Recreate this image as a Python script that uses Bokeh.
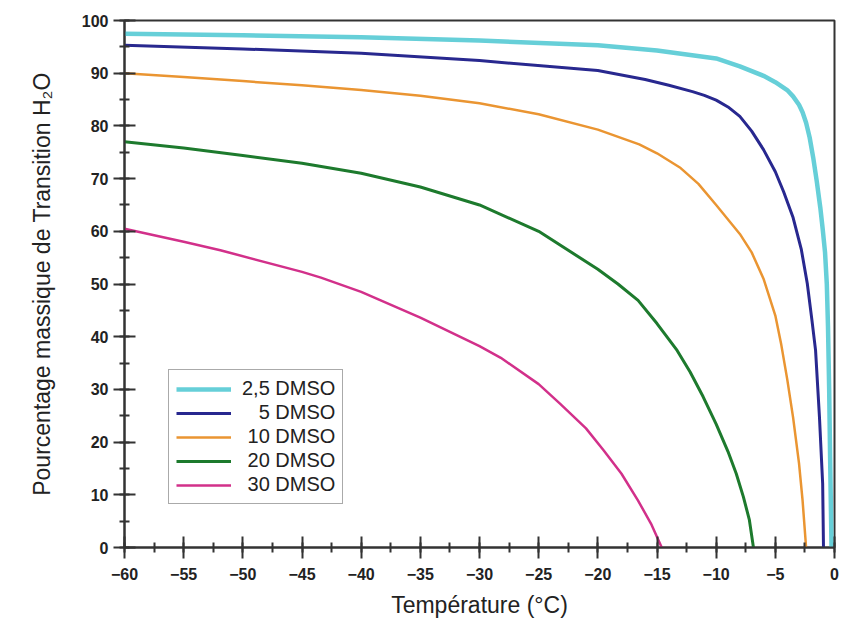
from bokeh.plotting import figure
from bokeh.models import Range1d, SingleIntervalTicker, Legend
from bokeh.embed import file_html
from bokeh.resources import INLINE

# --- data ---
t_25 = [-60, -50, -40, -30, -20, -15, -10, -8, -6, -5, -4, -3.5, -3, -2.7, -2.4, -2.1, -1.8, -1.5, -1.2, -1.0, -0.8, -0.65, -0.55, -0.45, -0.37, -0.3, -0.25]
v_25 = [97.5, 97.2, 96.8, 96.2, 95.3, 94.3, 92.8, 91.3, 89.5, 88.3, 86.8, 85.6, 84.0, 82.6, 80.6, 77.8, 74.0, 69.5, 64.5, 60.5, 56.0, 50.0, 42.0, 30.0, 17.0, 7.0, 0.0]

t_5 = [-60, -50, -40, -30, -20, -16, -14, -12, -11, -10, -9, -8, -7, -6, -5, -4.3, -3.5, -2.8, -2.3, -1.9, -1.6, -1.27, -1.0, -0.93]
v_5 = [95.3, 94.6, 93.8, 92.4, 90.5, 88.8, 87.7, 86.5, 85.8, 84.9, 83.6, 81.8, 79.0, 75.5, 71.3, 67.5, 62.6, 56.5, 50.1, 43.0, 37.4, 24.7, 12.1, 0.0]

t_10 = [-60, -55, -50, -45, -40, -35, -30, -25, -20, -16.5, -15, -13, -11.5, -10, -8, -7, -6, -5, -4.5, -4, -3.5, -3, -2.7, -2.4]
v_10 = [90.0, 89.3, 88.5, 87.7, 86.8, 85.7, 84.3, 82.2, 79.3, 76.5, 74.8, 72.0, 69.0, 65.0, 59.5, 56.0, 51.0, 44.0, 38.5, 32.0, 24.7, 16.0, 9.0, 0.0]

t_20 = [-60, -55, -50, -45, -40, -35, -30, -25, -20, -18.3, -16.6, -15, -13.3, -12.2, -11.1, -10, -9.0, -8.3, -7.7, -7.2, -6.85]
v_20 = [77.0, 75.8, 74.4, 72.9, 71.0, 68.4, 65.0, 60.0, 52.8, 50.0, 46.9, 42.5, 37.4, 33.3, 28.6, 23.4, 18.2, 14.0, 9.6, 5.3, 0.0]

t_30 = [-60, -55, -51.9, -45, -43.4, -40, -35, -30, -28.2, -25, -23.2, -21, -19.5, -18, -16.6, -15.5, -14.6]
v_30 = [60.5, 58.0, 56.4, 52.3, 51.2, 48.5, 43.6, 38.2, 36.0, 31.0, 27.3, 22.6, 18.4, 14.0, 8.9, 4.5, 0.0]

labels = ["2,5 DMSO", "\u2007\u20085 DMSO", "\u200810 DMSO", "\u200820 DMSO", "\u200830 DMSO"]
colors = ["#66cfd8", "#28288f", "#ea9532", "#1d7a2d", "#d2308a"]
widths = [4.5, 3, 2.5, 3, 2.5]
series = [(t_25, v_25), (t_5, v_5), (t_10, v_10), (t_20, v_20), (t_30, v_30)]

x_ticks_interval = 5
y_ticks_interval = 10

p = figure(width=847, height=625, output_backend="svg", toolbar_location=None,
           x_range=Range1d(-60, 0), y_range=Range1d(0, 100),
           min_border_left=124, min_border_right=13, min_border_top=20, min_border_bottom=78)
p.background_fill_color = "white"
p.border_fill_color = "white"
p.outline_line_color = "#333333"
p.outline_line_width = 2
p.xgrid.visible = False
p.ygrid.visible = False

renderers = []
for (tx, vy), lab, col, w in zip(series, labels, colors, widths):
    r = p.line(tx, vy, line_color=col, line_width=w, line_join="round")
    renderers.append((lab, [r]))

legend = Legend(items=renderers, location=(44, 43))
legend.label_text_font = "Liberation Sans"
legend.label_text_font_size = "20px"
legend.label_text_color = "#222222"
legend.glyph_width = 55
legend.glyph_height = 20
legend.label_height = 20
legend.label_standoff = 11
legend.spacing = 1
legend.padding = 7
legend.margin = 0
legend.border_line_color = "#555555"
legend.border_line_width = 1.5
legend.background_fill_alpha = 1
p.add_layout(legend, "center")

for ax, interval in ((p.xaxis[0], x_ticks_interval), (p.yaxis[0], y_ticks_interval)):
    ax.ticker = SingleIntervalTicker(interval=interval, num_minor_ticks=2)
    ax.axis_line_color = "#333333"
    ax.axis_line_width = 2
    ax.major_tick_line_color = "#333333"
    ax.major_tick_line_width = 2
    ax.minor_tick_line_color = "#333333"
    ax.minor_tick_line_width = 2
    ax.major_tick_in = 11
    ax.major_tick_out = 11
    ax.minor_tick_in = 5
    ax.minor_tick_out = 5
    ax.major_label_text_font = "Liberation Sans"
    ax.major_label_text_font_style = "bold"
    ax.major_label_text_font_size = "16px"
    ax.major_label_text_color = "#222222"
    ax.axis_label_text_font = "Liberation Sans"
    ax.axis_label_text_font_style = "normal"
    ax.axis_label_text_color = "#222222"

p.xaxis[0].axis_label = "Température (°C)"
p.xaxis[0].axis_label_text_font_size = "23px"
p.xaxis[0].major_label_standoff = 9
p.xaxis[0].axis_label_standoff = 9

p.yaxis[0].axis_label = "Pourcentage massique de Transition H₂O"
p.yaxis[0].axis_label_text_font_size = "23px"
p.yaxis[0].major_label_standoff = 5
p.yaxis[0].axis_label_standoff = 24

open("out.html", "w").write(file_html(p, INLINE))
